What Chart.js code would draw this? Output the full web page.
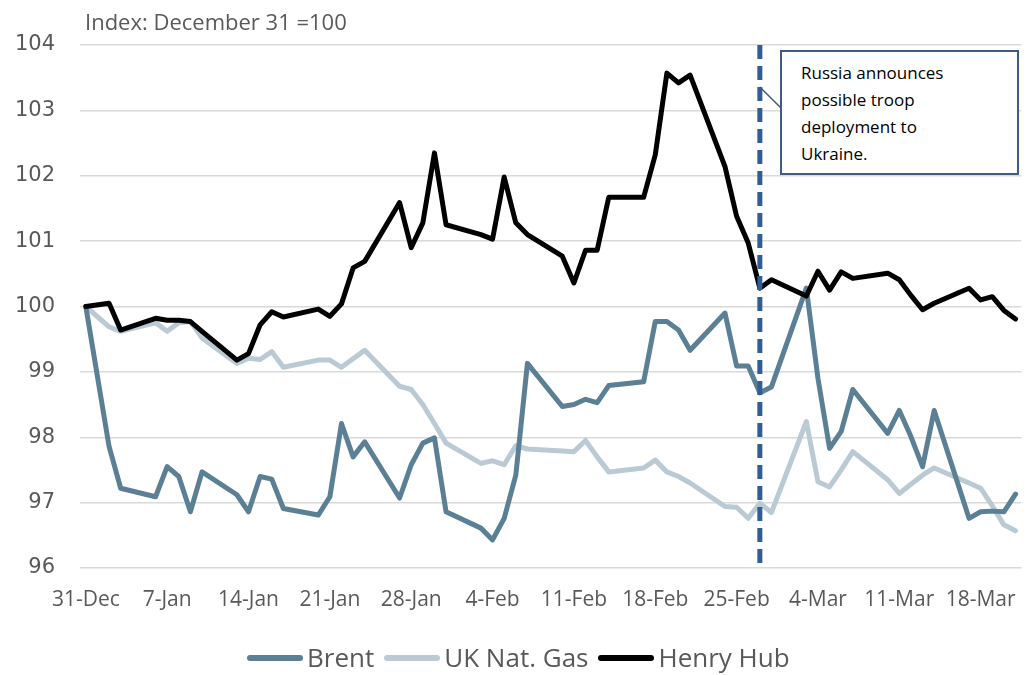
<!DOCTYPE html>
<html>
<head>
<meta charset="utf-8">
<script src="https://cdn.jsdelivr.net/npm/chart.js@4.4.1/dist/chart.umd.min.js"></script>
<style>
html,body{margin:0;padding:0;background:#fff;}
#wrap{position:relative;width:1035px;height:675px;overflow:hidden;background:#fff;}
#c{position:absolute;left:0;top:0;}
#sub{position:absolute;left:85px;top:10px;font:22px/22px "Open Sans";color:#595959;white-space:nowrap;}
#note{position:absolute;left:780px;top:50px;width:239px;height:125px;box-sizing:border-box;border:2px solid #3E5C86;background:#fff;font:17px/27px "Open Sans";color:#000;padding:7px 0 0 19px;}
#legend{position:absolute;left:247px;top:645px;display:flex;align-items:center;font:26px/25px "Open Sans";color:#595959;white-space:nowrap;}
.item{display:flex;align-items:center;margin-right:10px;}
.sw{width:56px;height:6px;margin-right:4px;border-radius:3px;}
</style>
</head>
<body>
<div id="wrap">
  <canvas id="c" width="1035" height="675"></canvas>
  <div id="sub">Index: December 31 =100</div>
  <div id="note">Russia announces<br>possible troop<br>deployment to<br>Ukraine.</div>
  <div id="legend"></div>
</div>
<script>
// Trading days
const dates = [
  '2013-12-31','2014-01-02','2014-01-03',
  '2014-01-06','2014-01-07','2014-01-08','2014-01-09','2014-01-10',
  '2014-01-13','2014-01-14','2014-01-15','2014-01-16','2014-01-17',
  '2014-01-20','2014-01-21','2014-01-22','2014-01-23','2014-01-24',
  '2014-01-27','2014-01-28','2014-01-29','2014-01-30','2014-01-31',
  '2014-02-03','2014-02-04','2014-02-05','2014-02-06','2014-02-07',
  '2014-02-10','2014-02-11','2014-02-12','2014-02-13','2014-02-14',
  '2014-02-17','2014-02-18','2014-02-19','2014-02-20','2014-02-21',
  '2014-02-24','2014-02-25','2014-02-26','2014-02-27','2014-02-28',
  '2014-03-03','2014-03-04','2014-03-05','2014-03-06','2014-03-07',
  '2014-03-10','2014-03-11','2014-03-12','2014-03-13','2014-03-14',
  '2014-03-17','2014-03-18','2014-03-19','2014-03-20','2014-03-21'
];
const brent = [
  100, 97.86, 97.22,
  97.09, 97.55, 97.40, 96.86, 97.47,
  97.12, 96.86, 97.40, 97.36, 96.91,
  96.81, 97.09, 98.21, 97.70, 97.93,
  97.07, 97.58, 97.91, 97.99, 96.86,
  96.61, 96.43, 96.76, 97.42, 99.13,
  98.47, 98.50, 98.58, 98.53, 98.79,
  98.85, 99.77, 99.77, 99.64, 99.33,
  99.90, 99.09, 99.09, 98.68, 98.77,
  100.28, 98.90, 97.83, 98.09, 98.73,
  98.06, 98.41, 98.01, 97.55, 98.41,
  96.76, 96.86, 96.87, 96.86, 97.13
];
const ukGas = [
  100, 99.69, 99.62,
  99.75, 99.62, 99.75, 99.77, 99.52,
  99.13, 99.21, 99.19, 99.31, 99.07,
  99.18, 99.18, 99.07, 99.20, 99.33,
  98.78, 98.73, 98.50, 98.21, 97.91,
  97.60, 97.64, 97.58, 97.87, 97.82,
  97.79, 97.78, 97.95, 97.70, 97.47,
  97.53, 97.65, 97.47, 97.40, 97.30,
  96.94, 96.93, 96.76, 96.99, 96.85,
  98.24, 97.32, 97.24, 97.50, 97.78,
  97.35, 97.14, 97.28, 97.42, 97.53,
  97.30, 97.22, 96.95, 96.66, 96.57
];
const henryHub = [
  100, 100.05, 99.64,
  99.82, 99.79, 99.79, 99.77, 99.62,
  99.18, 99.28, 99.72, 99.92, 99.84,
  99.96, 99.85, 100.04, 100.59, 100.69,
  101.59, 100.90, 101.28, 102.35, 101.25,
  101.10, 101.03, 101.98, 101.28, 101.10,
  100.77, 100.36, 100.86, 100.86, 101.67,
  101.67, 102.32, 103.57, 103.42, 103.54,
  102.14, 101.38, 100.97, 100.28, 100.41,
  100.16, 100.54, 100.25, 100.53, 100.43,
  100.51, 100.41, 100.17, 99.95, 100.05,
  100.28, 100.10, 100.15, 99.94, 99.81
];
const tickLabels = ['31-Dec','7-Jan','14-Jan','21-Jan','28-Jan','4-Feb','11-Feb','18-Feb','25-Feb','4-Mar','11-Mar','18-Mar'];
const yTicks = [96, 97, 98, 99, 100, 101, 102, 103, 104];
const seriesNames = ['Brent', 'UK Nat. Gas', 'Henry Hub'];
const seriesColors = ['#5B7F95', '#B9CAD5', '#000000'];
const eventDate = '2014-02-27';

const dayOffset = s => Math.round((Date.parse(s) - Date.parse(dates[0])) / 864e5);
const toPts = vals => dates.map((d, i) => ({x: dayOffset(d), y: vals[i]}));
const lastDay = dayOffset(dates[dates.length - 1]);

const eventPlugin = {
  id: 'eventLine',
  afterDatasetsDraw(chart) {
    const {ctx, chartArea, scales} = chart;
    const px = scales.x.getPixelForValue(dayOffset(eventDate));
    ctx.save();
    ctx.strokeStyle = '#2F5E94';
    ctx.lineWidth = 5;
    ctx.setLineDash([14, 7]);
    ctx.beginPath();
    ctx.moveTo(px, chartArea.top);
    ctx.lineTo(px, chartArea.bottom);
    ctx.stroke();
    ctx.setLineDash([]);
    ctx.lineWidth = 1.5;
    ctx.strokeStyle = '#3E5C86';
    ctx.beginPath();
    ctx.moveTo(px, 87);
    ctx.lineTo(781, 108);
    ctx.stroke();
    ctx.restore();
  }
};

const mk = (i, vals, order) => ({
  label: seriesNames[i], data: toPts(vals),
  borderColor: seriesColors[i], backgroundColor: seriesColors[i],
  borderWidth: 5, pointRadius: 0, tension: 0,
  borderJoinStyle: 'round', borderCapStyle: 'round', order
});

new Chart(document.getElementById('c'), {
  type: 'line',
  data: { datasets: [mk(0, brent, 1), mk(1, ukGas, 2), mk(2, henryHub, 0)] },
  options: {
    responsive: false, animation: false,
    layout: { padding: { top: 45, right: 9, bottom: 0, left: 0 } },
    plugins: { legend: { display: false }, tooltip: { enabled: false } },
    scales: {
      x: {
        type: 'linear', min: -0.5, max: lastDay + 0.5,
        grid: { display: false, drawTicks: false },
        border: { display: false },
        afterBuildTicks: s => { s.ticks = tickLabels.map((l, i) => ({value: i * 7})); },
        afterFit: s => { s.height = 107; },
        ticks: {
          autoSkip: false, maxRotation: 0, padding: 19,
          color: '#595959', font: { family: 'Open Sans', size: 21 },
          callback: v => tickLabels[Math.round(v / 7)]
        }
      },
      y: {
        min: yTicks[0], max: yTicks[yTicks.length - 1],
        afterBuildTicks: s => { s.ticks = yTicks.map(v => ({value: v})); },
        afterFit: s => { s.width = 80; },
        grid: { color: '#D9D9D9', lineWidth: 1.5, drawTicks: false },
        border: { display: false },
        ticks: { padding: 25, color: '#595959', font: { family: 'DejaVu Sans', size: 21 } }
      }
    }
  },
  plugins: [eventPlugin]
});

const lg = document.getElementById('legend');
seriesNames.forEach((n, i) => {
  const it = document.createElement('div'); it.className = 'item';
  const sw = document.createElement('div'); sw.className = 'sw'; sw.style.background = seriesColors[i];
  const tx = document.createElement('span'); tx.textContent = n;
  it.appendChild(sw); it.appendChild(tx); lg.appendChild(it);
});
</script>
</body>
</html>
